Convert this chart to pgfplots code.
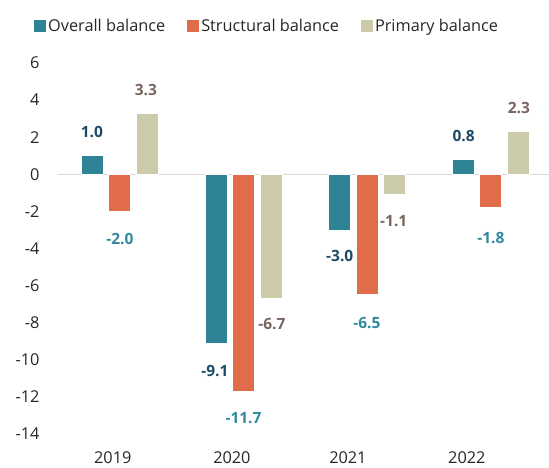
\documentclass[border=0pt]{standalone}
\usepackage{pgfplots}
\pgfplotsset{compat=1.18}
\usepackage{fontspec}
\setmainfont{Open Sans}
\definecolor{cA}{HTML}{2E8396}
\definecolor{cB}{HTML}{E06C4A}
\definecolor{cC}{HTML}{CCCBA9}
\definecolor{lA}{HTML}{1F4A66}
\definecolor{lB}{HTML}{3189A0}
\definecolor{lC}{HTML}{7A6460}
\definecolor{txt}{HTML}{262626}
\begin{document}
\begin{tikzpicture}
\begin{axis}[
  scale only axis,
  width=491pt, height=371pt,
  at={(0,0)}, anchor=south west,
  xmin=-0.5, xmax=3.47,
  ymin=-14, ymax=6,
  ybar=5.5pt, bar width=22pt,
  xtick={-0.057,0.906,1.844,2.806},
  xticklabels={2019,2020,2021,2022},
  ytick={-14,-12,...,6},
  axis line style={draw=none},
  tick style={draw=none},
  /pgf/number format/assume math mode=true,
  tick label style={font=\fontsize{16.3}{18}\selectfont, text=txt},
  yticklabel style={xshift=-15pt, anchor=east},
  xticklabel style={yshift=-10pt},
  extra y ticks={0}, extra y tick labels={},
  extra y tick style={grid=major, major grid style={draw=black!15, line width=1.5pt}},
  legend columns=3,
  legend style={at={(axis description cs:0.426,1.1)}, anchor=center, draw=none, fill=none,
    font=\fontsize{16.3}{18}\selectfont, text=txt,
    /tikz/every even column/.append style={column sep=20pt},
    inner sep=0pt},
  legend image code/.code={\fill[#1,draw=none] (0pt,-6pt) rectangle (12pt,6pt);},
]
\addplot[fill=cA, draw=white, line width=0.8pt] coordinates {(0,1.0) (1,-9.1) (2,-3.0) (3,0.8)};
\addplot[fill=cB, draw=white, line width=0.8pt] coordinates {(0,-2.0) (1,-11.7) (2,-6.5) (3,-1.8)};
\addplot[fill=cC, draw=white, line width=0.8pt] coordinates {(0,3.3) (1,-6.7) (2,-1.1) (3,2.3)};
\legend{Overall balance, Structural balance, Primary balance}
\begin{scope}[every node/.style={font=\bfseries\fontsize{15.5}{17}\selectfont}]
\node[text=lA] at (axis cs:-0.226,2.27) {1.0};
\node[text=lA] at (axis cs:0.768,-10.6) {-9.1};
\node[text=lA] at (axis cs:1.778,-4.38) {-3.0};
\node[text=lA] at (axis cs:2.78,2.05) {0.8};
\node[text=lB] at (axis cs:0,-3.46) {-2.0};
\node[text=lB] at (axis cs:1.0,-13.14) {-11.7};
\node[text=lB] at (axis cs:1.997,-8.0) {-6.5};
\node[text=lB] at (axis cs:3.0,-3.46) {-1.8};
\node[text=lC] at (axis cs:0.21,4.54) {3.3};
\node[text=lC] at (axis cs:1.229,-8.05) {-6.7};
\node[text=lC] at (axis cs:2.215,-2.54) {-1.1};
\node[text=lC] at (axis cs:3.226,3.57) {2.3};
\end{scope}
\end{axis}
\pgfresetboundingbox
\useasboundingbox (-58pt,-33pt) rectangle (491pt,434pt);
\end{tikzpicture}
\end{document}
